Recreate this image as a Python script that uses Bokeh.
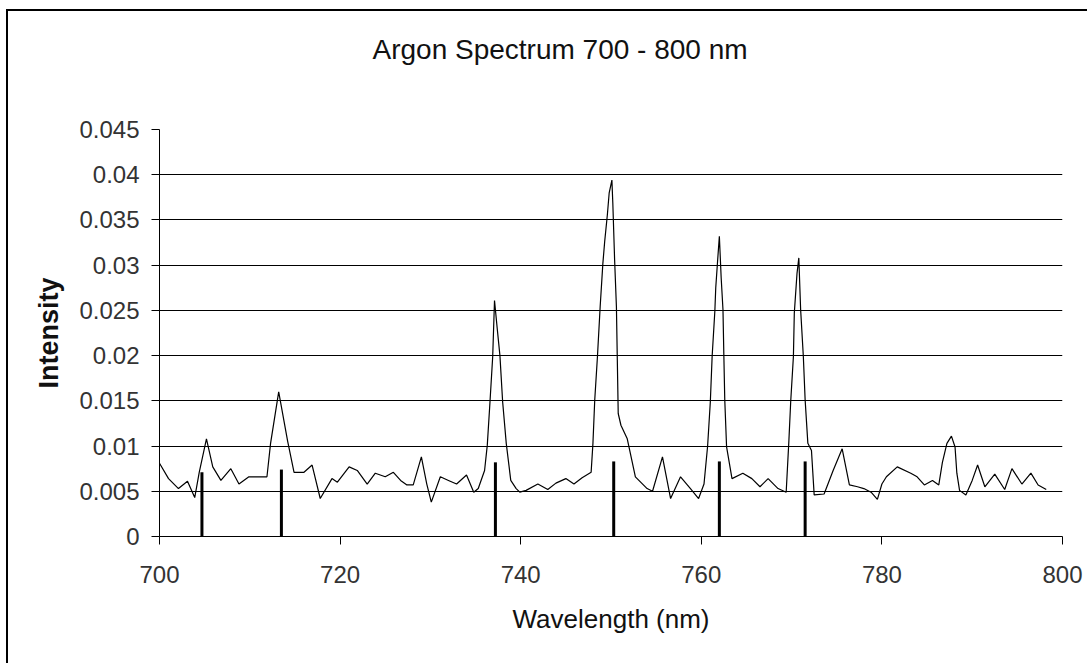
from bokeh.plotting import figure
from bokeh.models import Range1d, FixedTicker, CustomJSTickFormatter, Title
from bokeh.embed import file_html
from bokeh.resources import INLINE

# ---- data ----
wavelength = [
    700.0, 701.0, 702.1, 703.1, 703.9, 704.4, 705.2, 705.9, 706.8, 707.9,
    708.8, 709.9, 711.9, 712.3, 713.2, 714.2, 714.9, 716.0, 716.9, 717.8,
    719.1, 719.7, 721.0, 721.9, 723.0, 723.9, 725.0, 725.9, 726.7, 727.4,
    728.1, 729.0, 729.6, 730.1, 731.1, 732.0, 732.9, 734.0, 734.8, 735.3,
    736.0, 736.3, 736.6, 736.9, 737.1, 737.4, 737.7, 738.0, 738.4, 738.9,
    739.5, 739.9, 740.6, 741.9, 743.0, 743.9, 745.0, 745.9, 746.8, 747.8,
    748.0, 748.2, 748.5, 748.8, 749.1, 749.3, 749.6, 749.8, 750.1, 750.2,
    750.4, 750.6, 750.7, 750.8, 751.1, 751.8, 752.7, 754.0, 754.6, 755.7,
    756.6, 757.7, 758.8, 759.7, 760.3, 760.7, 761.0, 761.2, 761.5, 761.6,
    761.8, 762.0, 762.2, 762.4, 762.5, 762.6, 762.8, 763.4, 764.6, 765.6,
    766.5, 767.4, 768.5, 769.4, 769.7, 769.9, 770.2, 770.3, 770.6, 770.8,
    771.0, 771.3, 771.5, 771.8, 772.2, 772.5, 773.6, 774.6, 775.6, 776.4,
    777.3, 778.0, 778.8, 779.5, 780.0, 780.5, 781.7, 783.2, 783.9, 784.7,
    785.6, 786.3, 786.7, 787.2, 787.7, 788.1, 788.3, 788.6, 789.3, 790.0,
    790.6, 791.4, 792.5, 793.6, 794.4, 795.5, 796.5, 797.3, 798.2,
]
intensity = [
    0.0081, 0.0064, 0.0053, 0.0061, 0.0043, 0.0071, 0.0108, 0.0077, 0.0062, 0.0075,
    0.0058, 0.0066, 0.0066, 0.0103, 0.0160, 0.0105, 0.0071, 0.0071, 0.0079, 0.0042,
    0.0064, 0.0060, 0.0077, 0.0073, 0.0058, 0.0070, 0.0066, 0.0071, 0.0062, 0.0057,
    0.0057, 0.0088, 0.0058, 0.0038, 0.0066, 0.0062, 0.0058, 0.0068, 0.0049, 0.0053,
    0.0073, 0.0101, 0.0149, 0.0199, 0.0261, 0.0230, 0.0200, 0.0149, 0.0103, 0.0062,
    0.0053, 0.0049, 0.0051, 0.0058, 0.0052, 0.0059, 0.0064, 0.0058, 0.0065, 0.0071,
    0.0103, 0.0151, 0.0199, 0.0254, 0.0302, 0.0326, 0.0356, 0.0380, 0.0394, 0.0369,
    0.0306, 0.0254, 0.0195, 0.0136, 0.0123, 0.0108, 0.0066, 0.0053, 0.0050, 0.0088,
    0.0042, 0.0066, 0.0053, 0.0042, 0.0058, 0.0100, 0.0149, 0.0199, 0.0249, 0.0275,
    0.0304, 0.0332, 0.0286, 0.0251, 0.0199, 0.0151, 0.0099, 0.0064, 0.0070, 0.0064,
    0.0055, 0.0064, 0.0053, 0.0049, 0.0106, 0.0149, 0.0199, 0.0247, 0.0291, 0.0308,
    0.0251, 0.0199, 0.0151, 0.0103, 0.0095, 0.0046, 0.0047, 0.0073, 0.0097, 0.0057,
    0.0055, 0.0053, 0.0049, 0.0041, 0.0058, 0.0066, 0.0077, 0.0070, 0.0066, 0.0057,
    0.0062, 0.0057, 0.0082, 0.0103, 0.0111, 0.0099, 0.0070, 0.0051, 0.0046, 0.0062,
    0.0079, 0.0055, 0.0069, 0.0052, 0.0075, 0.0058, 0.0070, 0.0057, 0.0052,
]

# reference line positions (vertical bars)
line_wavelength = [704.7, 713.5, 737.2, 750.3, 762.0, 771.5]
line_height = [0.0071, 0.0074, 0.0082, 0.0083, 0.0083, 0.0083]

x_ticks = [700, 720, 740, 760, 780, 800]
y_ticks = [0, 0.005, 0.01, 0.015, 0.02, 0.025, 0.03, 0.035, 0.04, 0.045]

title_text = "Argon Spectrum 700 - 800 nm"
x_label = "Wavelength (nm)"
y_label = "Intensity"

FONT = "Liberation Sans"

p = figure(width=1081, height=654, output_backend="svg", toolbar_location=None,
           x_range=Range1d(700, 800), y_range=Range1d(0, 0.045),
           min_border_left=151, min_border_right=27, min_border_top=118, min_border_bottom=129)
p.styles = {"border-top": "2px solid black", "border-left": "2px solid black",
            "margin-left": "6px", "margin-top": "9px"}
p.outline_line_color = None
p.background_fill_color = "white"
p.border_fill_color = "white"

# spacer between the frame and the title, then the title itself
p.add_layout(Title(text=" ", text_font_size="10px", standoff=52), "above")
p.add_layout(Title(text=title_text, text_font=FONT, text_font_size="28px",
                   text_font_style="normal", text_color="#111111",
                   align="left", offset=213, standoff=0), "above")

# grid
p.xgrid.grid_line_color = None
p.ygrid.grid_line_color = "black"
p.ygrid.grid_line_width = 1
p.ygrid.ticker = FixedTicker(ticks=y_ticks)

# axes
for ax in (p.xaxis[0], p.yaxis[0]):
    ax.axis_line_color = "black"
    ax.axis_line_width = 1
    ax.major_tick_line_color = "black"
    ax.major_tick_out = 8
    ax.major_tick_in = 0
    ax.minor_tick_line_color = None
    ax.major_label_text_font = FONT
    ax.major_label_text_font_size = "24px"
    ax.major_label_text_color = "#333333"
    ax.axis_label_text_font = FONT
    ax.axis_label_text_color = "#111111"

p.xaxis.ticker = FixedTicker(ticks=x_ticks)
p.xaxis.major_label_standoff = 21
p.xaxis.axis_label = x_label
p.xaxis.axis_label_text_font_size = "26px"
p.xaxis.axis_label_text_font_style = "normal"
p.xaxis.axis_label_standoff = 18

p.yaxis.ticker = FixedTicker(ticks=y_ticks)
p.yaxis.major_label_standoff = 12
p.yaxis.formatter = CustomJSTickFormatter(code="return tick.toString();")
p.yaxis.axis_label = y_label
p.yaxis.axis_label_text_font_size = "27px"
p.yaxis.axis_label_text_font_style = "bold"
p.yaxis.axis_label_standoff = 12

# data
p.line(wavelength, intensity, line_color="black", line_width=1.2)
p.segment(x0=line_wavelength, y0=[0] * len(line_wavelength),
          x1=line_wavelength, y1=line_height, line_color="black", line_width=3)

open("out.html", "w").write(file_html(p, INLINE))
